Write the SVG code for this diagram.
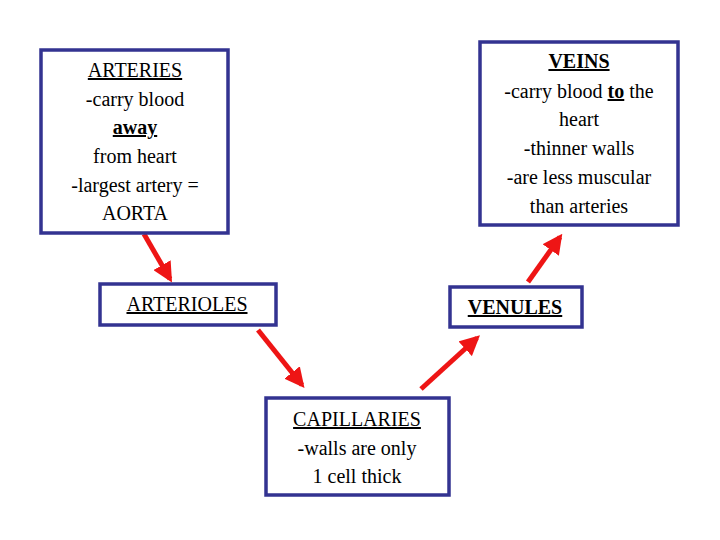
<svg xmlns="http://www.w3.org/2000/svg" width="720" height="540" viewBox="0 0 720 540">
<style>
.box{fill:#fff;stroke:#333391;stroke-width:3.5}
.t{font-family:'Liberation Serif','Times New Roman','DejaVu Serif',serif;font-size:20px;fill:#000;text-anchor:middle}
.u{text-decoration:underline}
.b{font-weight:bold}
.arr{stroke:#ee1515;stroke-width:5;fill:none;marker-end:url(#ah)}
</style>
<defs>
<marker id="ah" markerWidth="4" markerHeight="4" refX="3.2" refY="2" orient="auto" markerUnits="strokeWidth">
<path d="M0,0 L4,2 L0,4 z" fill="#ee1515"/>
</marker>
</defs>
<rect width="720" height="540" fill="#fff"/>
<g id="connectors">
<line class="arr" x1="144" y1="234" x2="170" y2="279"/>
<line class="arr" x1="258" y1="330" x2="302" y2="385"/>
<line class="arr" x1="421" y1="389" x2="477" y2="338"/>
<line class="arr" x1="528" y1="282" x2="560" y2="237"/>
</g>
<g id="arteries" class="t">
<rect class="box" x="41" y="50" width="187" height="183"/>
<text x="135" y="77" class="u">ARTERIES</text>
<text x="135" y="106">-carry blood</text>
<text x="135" y="134" class="u b">away</text>
<text x="135" y="163">from heart</text>
<text x="135" y="192">-largest artery =</text>
<text x="135" y="220">AORTA</text>
</g>
<g id="veins" class="t">
<rect class="box" x="480" y="42" width="198" height="183"/>
<text x="579" y="68" class="u b">VEINS</text>
<text x="579" y="98">-carry blood <tspan class="u b">to</tspan> the</text>
<text x="579" y="126">heart</text>
<text x="579" y="155">-thinner walls</text>
<text x="579" y="184">-are less muscular</text>
<text x="579" y="213">than arteries</text>
</g>
<g id="arterioles" class="t">
<rect class="box" x="100" y="284" width="176" height="41"/>
<text x="187" y="311" class="u">ARTERIOLES</text>
</g>
<g id="venules" class="t">
<rect class="box" x="450" y="287" width="132" height="40"/>
<text x="515" y="314" class="u b">VENULES</text>
</g>
<g id="capillaries" class="t">
<rect class="box" x="266" y="398" width="183" height="97"/>
<text x="357" y="426" class="u">CAPILLARIES</text>
<text x="357" y="455">-walls are only</text>
<text x="357" y="483">1 cell thick</text>
</g>
</svg>
